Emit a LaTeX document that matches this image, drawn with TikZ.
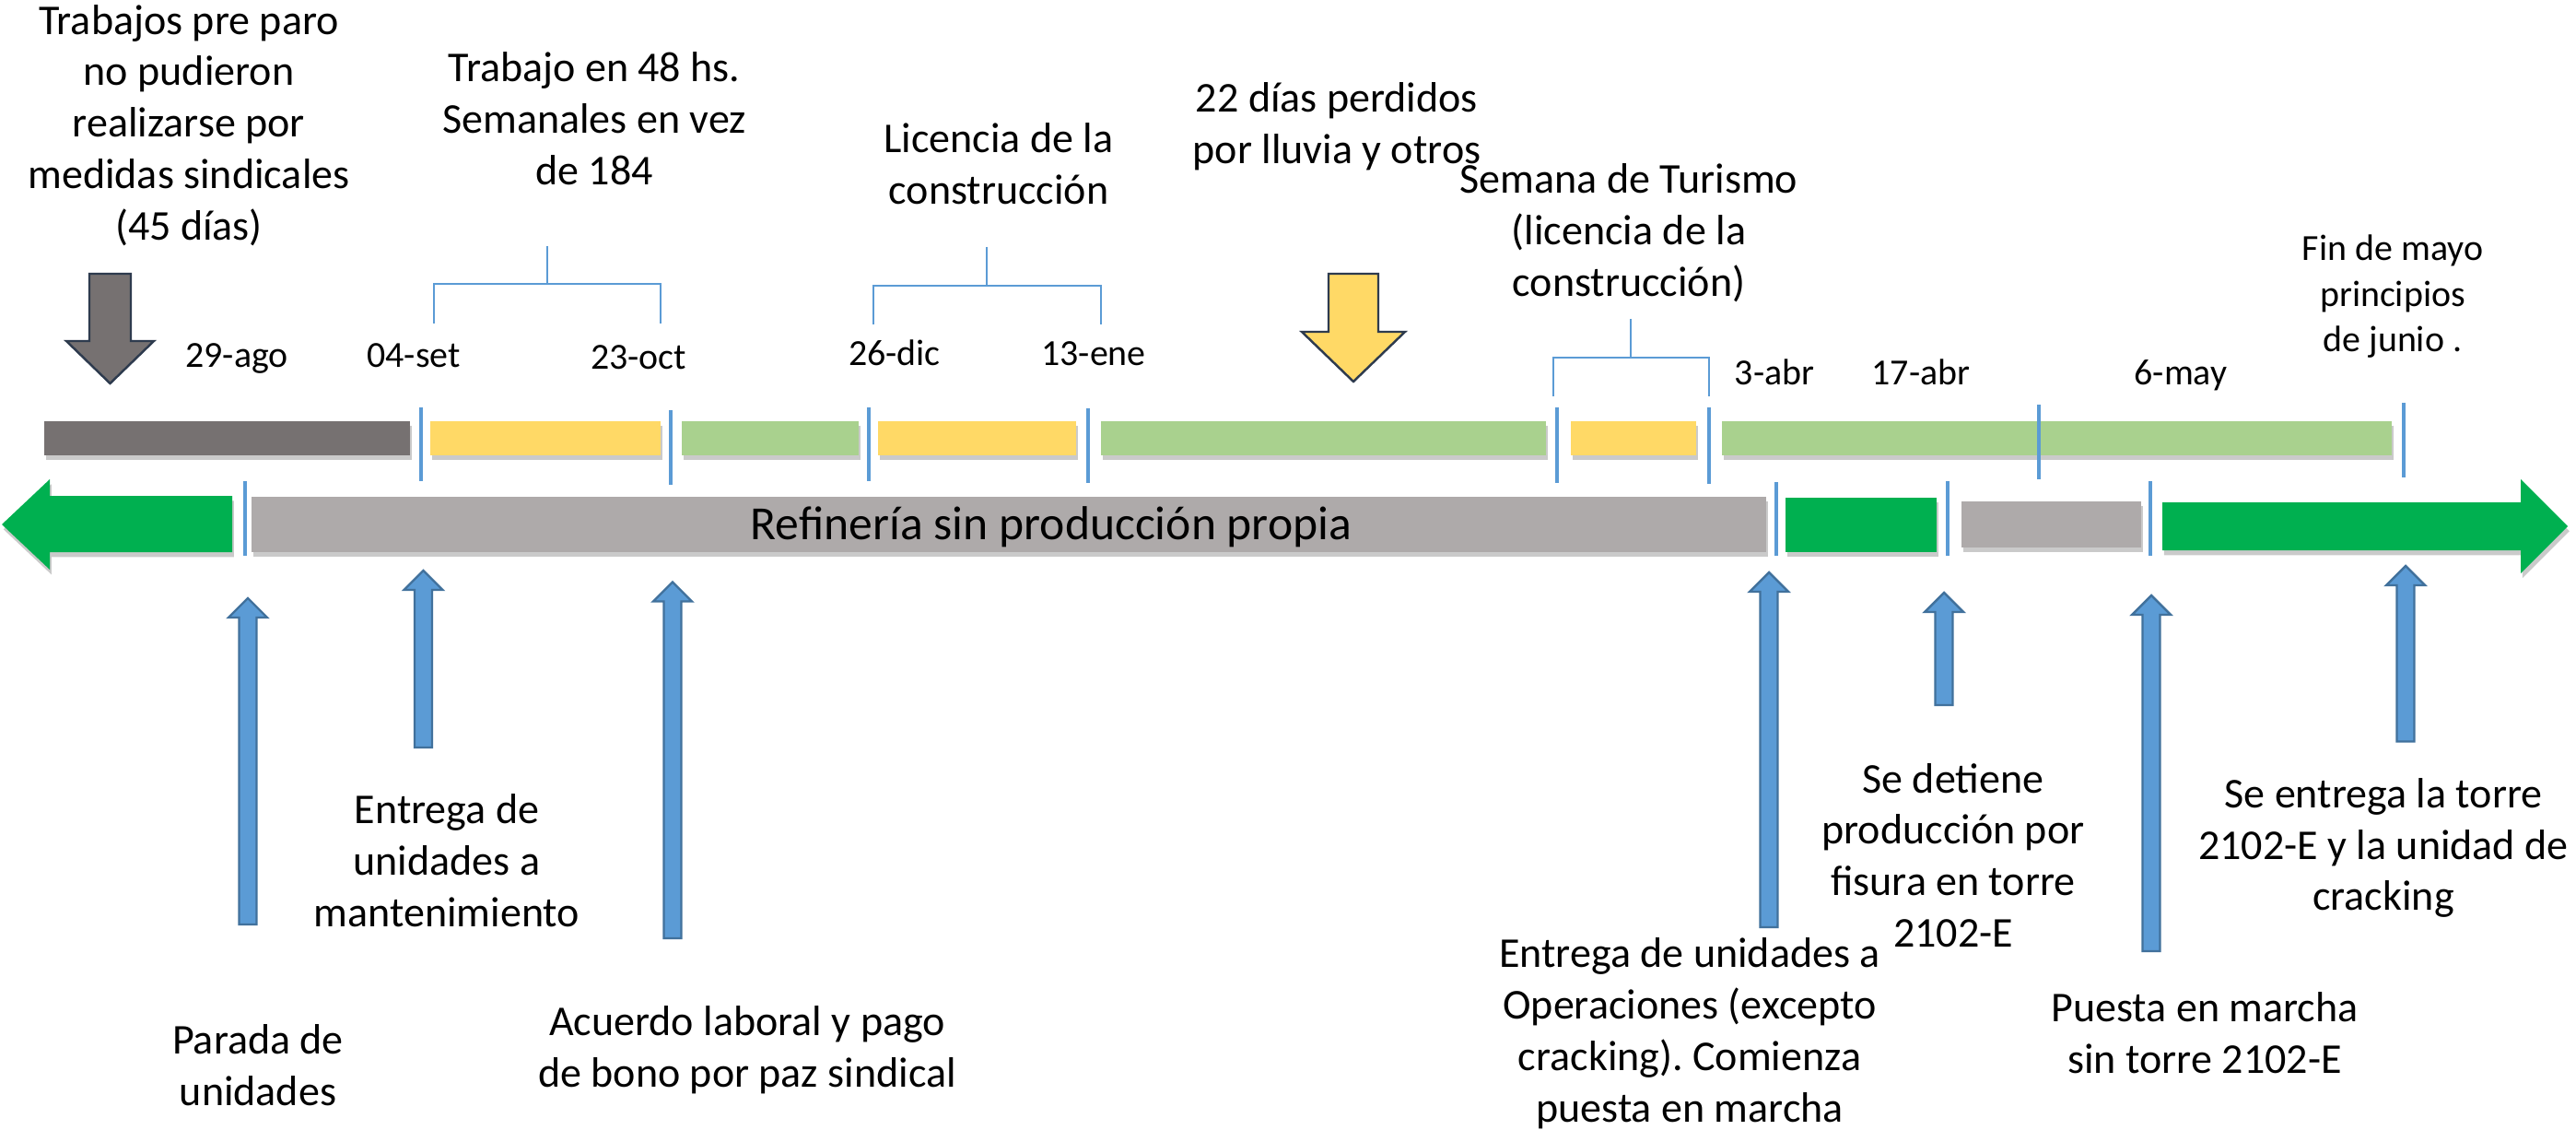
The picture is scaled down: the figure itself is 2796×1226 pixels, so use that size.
\documentclass[tikz,border=0pt]{standalone}
\usepackage{fontspec}
\setmainfont{Carlito}
\usepackage{tikz}
\usetikzlibrary{shadows}
\frenchspacing
\definecolor{stopgray}{HTML}{767171}
\definecolor{workyellow}{HTML}{FFD966}
\definecolor{lightgreen}{HTML}{A9D18E}
\definecolor{tickblue}{HTML}{5B9BD5}
\definecolor{idlegray}{HTML}{AEAAAA}
\definecolor{rungreen}{HTML}{00B050}
\definecolor{arrowedge}{HTML}{41719C}
\definecolor{darkedge}{HTML}{2E3B4E}
\tikzset{
	event/.style={align=center, inner sep=0pt, font=\fontsize{13.1}{15.9}\selectfont},
	datelbl/.style={anchor=base, inner sep=0pt, font=\fontsize{11.35}{14.1}\selectfont},
	datetick/.style={draw=tickblue, line width=1.4pt},
	bracket/.style={draw=tickblue, line width=0.55pt},
	timebar/.style={drop shadow={shadow xshift=0.5pt, shadow yshift=-1.5pt, opacity=0.35, fill=black!60}},
	blockarrow/.style={line width=0.7pt, line join=miter},
}

\begin{document}
\begin{tikzpicture}[x=0.1mm, y=-0.1mm] % one unit per pixel, y going down
	\useasboundingbox (0,0) rectangle (2796,1226);

	% upper row of periods
	\foreach \a/\b/\c in {48/445/stopgray, 467/717/workyellow, 740/932/lightgreen, 953/1168/workyellow,
		1195/1678/lightgreen, 1705/1841/workyellow, 1869/2596/lightgreen}
		\fill[timebar, fill=\c] (\a,457) rectangle (\b,494);

	% lower row: production
	\fill[timebar, rungreen] (252,538) -- (54,538) -- (54,520) -- (2,569) -- (54,618) -- (54,599) -- (252,599) -- cycle;
	\fill[timebar, idlegray] (273,539) rectangle (1917,599);
	\fill[timebar, rungreen] (1938,540) rectangle (2102,599);
	\fill[timebar, idlegray] (2129,544) rectangle (2324,594);
	\fill[timebar, rungreen] (2347,545) -- (2736,545) -- (2736,520) -- (2787,571) -- (2736,622) -- (2736,597) -- (2347,597) -- cycle;
	\node (idle) at (1141,572) [inner sep=0pt, font=\fontsize{14.7}{17}\selectfont] {Refinería sin producción propia};

	% date marks
	\foreach \x/\t/\b in {457/442/522, 728/445/526, 943/442/522, 1181/443/524, 1690/442/524, 1855/442/525,
		2213/439/520, 2609/437/518, 266/522/603, 1928/523/603, 2114/522/603, 2334/522/603}
		\draw[datetick] (\x,\t) -- (\x,\b);

	\foreach \x/\y/\d in {257/399/29-ago, 449/399/04-set, 693/401/23-oct, 971/397/26-dic, 1187/397/13-ene,
		1926/418/3-abr, 2085/418/17-abr, 2367/418/6-may}
		\node[datelbl] (d\d) at (\x,\y) {\d};

	% brackets over the periods
	\foreach \m/\l/\r/\t/\h/\b in {594/471/717/267/308/351, 1071/948/1195/268/310/352, 1770/1686/1855/346/388/430}
		\draw[bracket] (\m,\t) -- (\m,\h) (\l,\b) -- (\l,\h) -- (\r,\h) -- (\r,\b);

	% notes above
	\node[event] (prework) at (205,136) {Trabajos pre paro\\no pudieron\\realizarse por\\medidas sindicales\\(45 días)};
	\node[event] (hours) at (645,129) {Trabajo en 48 hs.\\Semanales en vez\\de 184};
	\node[event] (leave) at (1084,178) {Licencia de la\\construcción};
	\node[event] (rain) at (1451,137) {22 días perdidos\\por lluvia y otros};
	\node[event] (tourism) at (1768,253) {Semana de Turismo\\(licencia de la\\construcción)};
	\node[event, font=\fontsize{11.35}{14.1}\selectfont] (june) at (2597,322) {Fin de mayo\\principios\\de junio .};

	\foreach \x/\w/\hw/\hb/\tip/\c in {119.5/22.5/47.5/370/416/stopgray, 1469/27/56/360/414/workyellow}
		\filldraw[blockarrow, fill=\c, draw=darkedge] (\x-\w,297) -- (\x+\w,297) -- (\x+\w,\hb) -- (\x+\hw,\hb)
			-- (\x,\tip) -- (\x-\hw,\hb) -- (\x-\w,\hb) -- cycle;

	% events below
	\foreach \x/\t/\b in {269/649/1003, 459.5/619/811, 730/631.5/1018, 1920/621/1006, 2110/643/765, 2335/646/1032, 2611/614/804.5}
		\filldraw[blockarrow, fill=tickblue, draw=arrowedge] (\x-9.5,\b) -- (\x-9.5,\t+21) -- (\x-21,\t+21) -- (\x,\t)
			-- (\x+21,\t+21) -- (\x+9.5,\t+21) -- (\x+9.5,\b) -- cycle;

	\node[event] (stop) at (280,1156) {Parada de\\unidades};
	\node[event] (handover) at (485,934) {Entrega de\\unidades a\\mantenimiento};
	\node[event] (deal) at (811,1139) {Acuerdo laboral y pago\\de bono por paz sindical};
	\node[event] (ops) at (1834,1121) {Entrega de unidades a\\Operaciones (excepto\\cracking). Comienza\\puesta en marcha};
	\node[event] (crack) at (2120,928) {Se detiene\\producción por\\fisura en torre\\2102-E};
	\node[event] (restart) at (2393,1121) {Puesta en marcha\\sin torre 2102-E};
	\node[event] (tower) at (2587,920) {Se entrega la torre\\2102-E y la unidad de\\cracking};
\end{tikzpicture}
\end{document}
